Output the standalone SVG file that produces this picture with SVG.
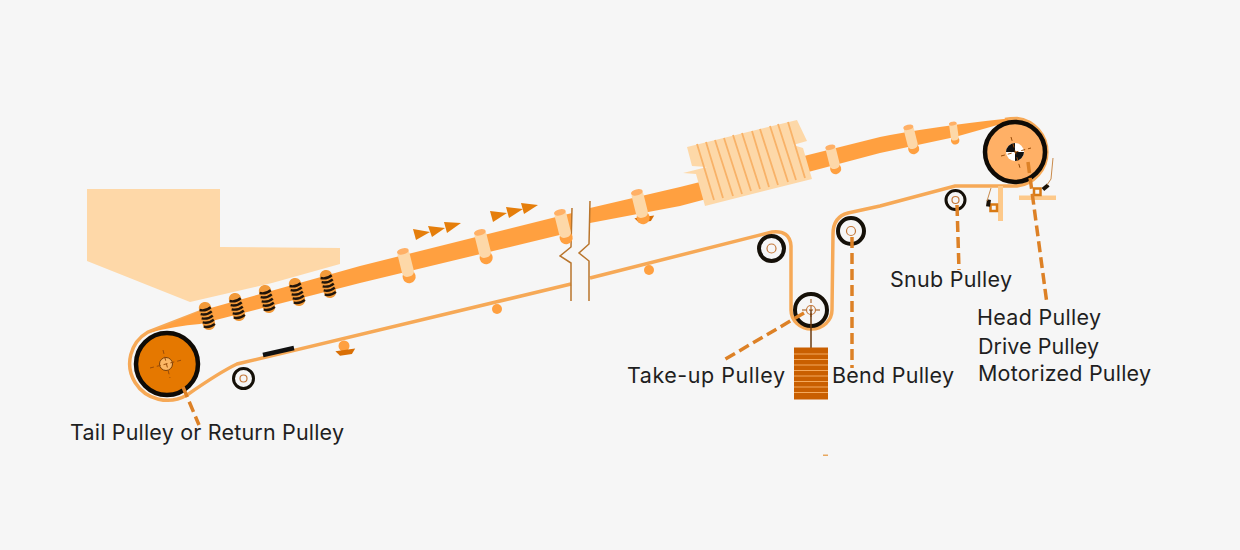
<svg xmlns="http://www.w3.org/2000/svg" width="1240" height="550" viewBox="0 0 1240 550">
<style>
text{font-family:"Inter","Open Sans","Liberation Sans",sans-serif;font-size:21.500px;fill:#1f1f1f;font-weight:400}
.belt{fill:#ffa040}
.thin{fill:none;stroke:#f6a957;stroke-width:3.500}
.leader{fill:none;stroke:#dd8126;stroke-width:3.500;stroke-dasharray:11 5}
.cross{fill:none;stroke:#9a4c08;stroke-width:1;stroke-dasharray:4 3}
.arrow{fill:#e57e0b}
.light{fill:#fdd8a8}
.stripe{stroke:#f8b268;stroke-width:1.800}
.ring{fill:#f6f6f6;stroke:#151008}
.hub{fill:none;stroke:#c4783a;stroke-width:1.200}
.brk{fill:none;stroke:#b9752c;stroke-width:1.500}
.bit{fill:#1a1208}
.sq{fill:#f6f6f6;stroke:#d87a14;stroke-width:2.500}
</style>
<defs>
<g id="idler"><circle cx="0" cy="13" r="6.500" fill="#ffa040"/><rect x="-6" y="-15" width="12" height="28" rx="5" fill="#fdd8a8"/><ellipse cx="0" cy="-13" rx="6" ry="3" fill="#ffb066"/></g>
<g id="roller"><rect x="-6.500" y="-15" width="13" height="30" rx="6" fill="#f29a3a"/><path d="M-6-8Q0-5 6-8M-6-3.500Q0-.5 6-3.500M-6 1Q0 4 6 1M-6 5.500Q0 8.500 6 5.500M-6 10Q0 13 6 10" stroke="#20140a" stroke-width="2.500" fill="none"/></g>
<g id="trough"><path d="M-10 2H10L6 7H-6Z" fill="#d96f05"/></g>
</defs>
<rect width="1240" height="550" fill="#f6f6f6"/>
<g id="hopper"><polygon points="87,189 220,189 220,247 340,248 340,264 272,283 190,302 87,261" fill="#fed8a8"/></g>
<g id="belt">
<path class="thin" d="M1005,119.500Q1010,118.500 1017,118.500A34,34 0 0 1 1017,186L955,186L880,206L848,213Q833,217 833,234L832,310A20.500,19 0 0 1 791,310L791,246Q790,230 772,232L590,278"/>
<path class="thin" d="M571,284L237,364Q220,372 187,395A37,36 0 1 1 148,332L200,312"/>
<path class="belt" d="M148,333L200,311L360,266L572,213V232L360,283L200,324Q175,326 148,333Z"/>
<path class="belt" d="M590,208L680,187L880,137Q930,127 1008,118.500V122L955,137L880,153L680,206L590,223Z"/>
</g>
<g id="break">
<path class="brk" d="M572,208L571,247L560,256L571,263V301"/>
<path class="brk" d="M590,201L589,244L579,253L589,261V301"/>
</g>
<g id="arrows">
<polygon class="arrow" points="413,229 416,240 430,232"/><polygon class="arrow" points="428,226 432,237 445,228"/><polygon class="arrow" points="444,222 447,233 461,223"/>
<polygon class="arrow" points="490,211 493,222 507,213"/><polygon class="arrow" points="506,207 509,218 523,209"/><polygon class="arrow" points="521,203 524,214 538,205"/>
</g>
<g id="rollers">
<use href="#roller" transform="translate(207,316) rotate(-14) scale(.95)"/><use href="#roller" transform="translate(237,307) rotate(-14) scale(.95)"/><use href="#roller" transform="translate(267,299) rotate(-14) scale(.95)"/><use href="#roller" transform="translate(297,292) rotate(-14) scale(.95)"/><use href="#roller" transform="translate(328,284) rotate(-14) scale(.95)"/>
</g>
<g id="idlers">
<use href="#idler" transform="translate(406,264) rotate(-14)"/><use href="#idler" transform="translate(483,245) rotate(-14)"/><use href="#idler" transform="translate(563,225) rotate(-14)"/>
<use href="#trough" transform="translate(644,215) rotate(-8)"/><use href="#idler" transform="translate(640,205) rotate(-14)"/><use href="#idler" transform="translate(833,158) rotate(-14) scale(.85)"/><use href="#idler" transform="translate(911,138) rotate(-14) scale(.85)"/><use href="#idler" transform="translate(954,132) rotate(-8) scale(.65)"/>
<circle cx="344" cy="346" r="5.500" fill="#ffa040"/><use href="#trough" transform="translate(345,348) rotate(-8)"/>
<circle cx="497" cy="309" r="5" fill="#ffa040"/><circle cx="649" cy="270" r="5" fill="#ffa040"/>
<path d="M263,355L294,348" stroke="#111" stroke-width="4.500"/>
</g>
<g id="skirt">
<polygon class="light" points="687,147 797,120 807,141 793,145 803,148 812,179 705,206 696,174 683,173 707,167 692,166"/>
<path class="stripe" d="M697,144L714,200M706,142L723,198M715,140L733,196M724,138L742,194M733,135L751,191M742,133L760,189M752,131L769,187M760,129L778,185M770,126L788,182M778,124L796,180M788,122L805,178"/>
</g>
<g id="tail-pulley">
<circle cx="167" cy="364" r="31" fill="#e57800" stroke="#0f0b06" stroke-width="4.500"/>
<circle cx="166" cy="364" r="6.500" fill="#fbb765" stroke="#7a4008" stroke-width="1"/>
<path class="cross" d="M150,368L182,360M163,350L170,378"/>
</g>
<g id="head-pulley">
<circle cx="1015" cy="152" r="30" fill="#ffb066" stroke="#0f0b06" stroke-width="4.500"/>
<circle cx="1015" cy="152" r="9" fill="#fff"/>
<path d="M1015,143A9,9 0 0 0 1006,152H1015ZM1015,152H1024A9,9 0 0 1 1015,161Z" fill="#111"/>
<path class="cross" d="M1001,156L1031,148M1011,137L1020,168"/>
</g>
<g id="return-pulley"><circle class="ring" cx="243.500" cy="378.500" r="10" stroke-width="3"/><circle class="hub" cx="243.500" cy="378.500" r="3.500"/></g>
<g id="upper-bend-pulley"><circle class="ring" cx="771.500" cy="248.500" r="12.500" stroke-width="4"/><circle class="hub" cx="771.500" cy="248.500" r="4.500"/></g>
<g id="bend-pulley"><circle class="ring" cx="851" cy="231" r="13" stroke-width="4"/><circle class="hub" cx="851" cy="231" r="4.500"/></g>
<g id="snub-pulley"><circle class="ring" cx="955.500" cy="200" r="9.500" stroke-width="3"/><circle class="hub" cx="955.500" cy="200" r="3.500"/></g>
<g id="takeup-pulley">
<circle class="ring" cx="811" cy="310" r="16" stroke-width="4"/><circle class="hub" cx="811" cy="310" r="4.500"/>
<path class="cross" d="M802,310H820M811,299V318"/>
<path d="M811,310V348" stroke="#6b3b10" stroke-width="1.500"/>
</g>
<g id="weight">
<rect x="794" y="347.500" width="34" height="52" fill="#c95f00"/>
<path d="M794,354H828M794,359.500H828M794,365H828M794,370.500H828M794,376H828M794,381.500H828M794,387H828M794,392.500H828" stroke="#f4a95c" stroke-width="1"/>
</g>
<g id="scrapers">
<rect x="998" y="186" width="5" height="35" fill="#fdc98a"/>
<rect x="1019" y="195.500" width="37" height="4.500" fill="#fdc98a"/>
<rect class="sq" x="990.500" y="204.500" width="6.500" height="6.500"/><rect class="sq" x="1034" y="188.500" width="6.500" height="6.500"/>
<rect class="bit" x="986.500" y="199.500" width="4" height="7" transform="rotate(8 988 203)"/><rect class="bit" x="1044" y="184" width="4" height="7" transform="rotate(50 1046 187)"/>
<path d="M991,188L987,201M1053,158L1051,179L1047,185" fill="none" stroke="#c98a4a" stroke-width="1"/>
<rect x="823" y="454.500" width="5" height="1.500" fill="#e8a860"/>
</g>
<g id="connectors">
<path class="leader" d="M183,387L199,425"/>
<path class="leader" d="M804,313L722,361"/>
<path class="leader" d="M852,237V368"/>
<path class="leader" d="M957,205L959,270"/>
<path class="leader" d="M1028,162L1047,304"/>
</g>
<g id="labels">
<text x="70" y="440" textLength="274">Tail Pulley or Return Pulley</text>
<text x="627" y="383" textLength="158">Take-up Pulley</text>
<text x="832" y="383" textLength="122">Bend Pulley</text>
<text x="890" y="287" textLength="122">Snub Pulley</text>
<text x="977" y="325" textLength="124">Head Pulley</text>
<text x="978" y="354" textLength="121">Drive Pulley</text>
<text x="978" y="381" textLength="173">Motorized Pulley</text>
</g>
</svg>
